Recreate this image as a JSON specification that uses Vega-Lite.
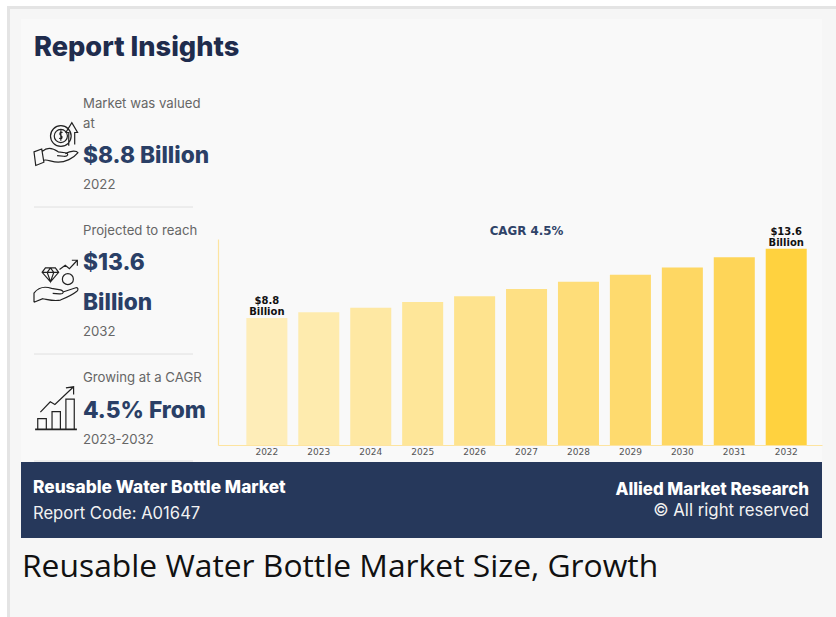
{
  "$schema": "https://vega.github.io/schema/vega-lite/v6.json",
  "width": 604,
  "height": 206,
  "padding": {"left": 218, "top": 239, "right": 14, "bottom": 172},
  "autosize": {"type": "none"},
  "background": "#ffffff",
  "config": {"view": {"stroke": null}},
  "resolve": {"scale": {"x": "independent", "y": "independent", "color": "independent", "size": "independent"}},
  "datasets": {
    "market": [
      {"year": "2022", "value": 8.8, "label": "$8.8\nBillion"},
      {"year": "2023", "value": 9.2},
      {"year": "2024", "value": 9.5},
      {"year": "2025", "value": 9.9},
      {"year": "2026", "value": 10.3},
      {"year": "2027", "value": 10.8},
      {"year": "2028", "value": 11.3},
      {"year": "2029", "value": 11.8},
      {"year": "2030", "value": 12.3},
      {"year": "2031", "value": 13.0},
      {"year": "2032", "value": 13.6, "label": "$13.6\nBillion"}
    ],
    "panels": [
      {"part": "edge", "fromCol": 1, "toCol": 7, "fromRow": 1, "toRow": 9},
      {"part": "page", "fromCol": 2, "toCol": 7, "fromRow": 2, "toRow": 9},
      {"part": "card", "fromCol": 3, "toCol": 6, "fromRow": 3, "toRow": 7},
      {"part": "banner", "fromCol": 3, "toCol": 6, "fromRow": 7, "toRow": 8}
    ],
    "dividers": [
      {"fromCol": 4, "toCol": 5, "row": 4},
      {"fromCol": 4, "toCol": 5, "row": 5},
      {"fromCol": 4, "toCol": 5, "row": 6}
    ],
    "icons": [
      {"icon": "coin", "block": 1},
      {"icon": "gem", "block": 2},
      {"icon": "growth", "block": 3}
    ],
    "copy": [
      {"text": "Report Insights", "line": 1, "column": 1, "role": "heading"},
      {"text": "Market was valued", "line": 2, "column": 2, "role": "note"},
      {"text": "at", "line": 3, "column": 2, "role": "note"},
      {"text": "$8.8 Billion", "line": 4, "column": 2, "role": "figure"},
      {"text": "2022", "line": 5, "column": 2, "role": "note"},
      {"text": "Projected to reach", "line": 6, "column": 2, "role": "note"},
      {"text": "$13.6", "line": 7, "column": 2, "role": "figure"},
      {"text": "Billion", "line": 8, "column": 2, "role": "figure"},
      {"text": "2032", "line": 9, "column": 2, "role": "note"},
      {"text": "Growing at a CAGR", "line": 10, "column": 2, "role": "note"},
      {"text": "4.5% From", "line": 11, "column": 2, "role": "figure"},
      {"text": "2023-2032", "line": 12, "column": 2, "role": "note"},
      {"text": "Reusable Water Bottle Market", "line": 13, "column": 3, "role": "bannerTitle"},
      {"text": "Allied Market Research", "line": 14, "column": 4, "role": "bannerTitleRight"},
      {"text": "© All right reserved", "line": 15, "column": 4, "role": "bannerNoteRight"},
      {"text": "Report Code: A01647", "line": 16, "column": 3, "role": "bannerNote"},
      {"text": "Reusable Water Bottle Market Size, Growth", "line": 17, "column": 5, "role": "caption"},
      {"text": "CAGR 4.5%", "line": 6, "column": 6, "role": "cagr"}
    ]
  },
  "layer": [
    {
      "data": {"name": "panels"},
      "mark": {"type": "rect"},
      "encoding": {
        "x": {"field": "fromCol", "type": "quantitative", "axis": null, "scale": {"domain": [1, 2, 3, 4, 5, 6, 7], "range": [-211, -208, -197, -184, -25, 604, 618], "nice": false, "zero": false}},
        "x2": {"field": "toCol"},
        "y": {"field": "fromRow", "type": "quantitative", "axis": null, "scale": {"domain": [1, 2, 3, 4, 5, 6, 7, 8, 9], "range": [-233, -230, -220, -32, 115, 222, 223, 299, 378], "nice": false, "zero": false}},
        "y2": {"field": "toRow"},
        "color": {"field": "part", "type": "nominal", "legend": null, "scale": {"domain": ["edge", "page", "card", "banner"], "range": ["#e4e4e4", "#f6f6f6", "#f9f9f9", "#26385b"]}}
      }
    },
    {
      "data": {"name": "dividers"},
      "mark": {"type": "rule", "stroke": "#e0e0e0", "strokeWidth": 1},
      "encoding": {
        "x": {"field": "fromCol", "type": "quantitative", "axis": null, "scale": {"domain": [1, 2, 3, 4, 5, 6, 7], "range": [-211, -208, -197, -184, -25, 604, 618], "nice": false, "zero": false}},
        "x2": {"field": "toCol"},
        "y": {"field": "row", "type": "quantitative", "axis": null, "scale": {"domain": [1, 2, 3, 4, 5, 6, 7, 8, 9], "range": [-233, -230, -220, -32, 115, 222, 223, 299, 378], "nice": false, "zero": false}}
      }
    },
    {
      "data": {"name": "market"},
      "mark": {"type": "bar"},
      "encoding": {
        "x": {
          "field": "year", "type": "nominal", "title": null,
          "scale": {"paddingInner": 0.21, "paddingOuter": 0.42, "align": 0.65},
          "axis": {"labelAngle": 0, "labelFont": "DejaVu Sans", "labelFontSize": 9, "labelColor": "#555555", "labelPadding": 2, "ticks": false, "domainColor": "#fde4a0", "domainWidth": 1.2, "zindex": 1}
        },
        "y": {
          "field": "value", "type": "quantitative", "title": null,
          "scale": {"domain": [0, 14.27], "nice": false},
          "axis": {"labels": false, "ticks": false, "grid": false, "domainColor": "#fde4a0", "domainWidth": 1.2, "zindex": 1}
        },
        "color": {
          "field": "year", "type": "nominal", "legend": null,
          "scale": {"range": ["#feedb8", "#feebae", "#fee8a3", "#fee699", "#fee38e", "#fee084", "#fedd79", "#feda6e", "#fed763", "#fed558", "#ffd23f"]}
        }
      }
    },
    {
      "data": {"name": "market"},
      "transform": [{"filter": "isValid(datum.label)"}],
      "mark": {"type": "text", "font": "DejaVu Sans", "fontWeight": "bold", "fontSize": 10, "lineBreak": "\n", "lineHeight": 11, "baseline": "bottom", "color": "#111111", "dy": -11.5},
      "encoding": {
        "x": {"field": "year", "type": "nominal", "axis": null, "scale": {"type": "band", "domain": ["2022", "2023", "2024", "2025", "2026", "2027", "2028", "2029", "2030", "2031", "2032"], "paddingInner": 0.21, "paddingOuter": 0.42, "align": 0.65}},
        "y": {"field": "value", "type": "quantitative", "axis": null, "scale": {"domain": [0, 14.27], "nice": false}},
        "text": {"field": "label"}
      }
    },
    {
      "data": {"name": "icons"},
      "mark": {"type": "point", "filled": false, "size": 1936, "stroke": "#222222", "strokeWidth": 1.2, "opacity": 1},
      "encoding": {
        "x": {"field": "block", "type": "quantitative", "axis": null, "scale": {"domain": [1, 3], "range": [-162, -162], "nice": false, "zero": false}},
        "y": {"field": "block", "type": "quantitative", "axis": null, "scale": {"domain": [1, 2, 3], "range": [-95.5, 41.7, 168.7], "nice": false, "zero": false}},
        "shape": {
          "field": "icon", "type": "nominal", "legend": null,
          "scale": {
            "domain": ["coin", "gem", "growth"],
            "range": [
              "M-.25 -.34a.47 .47 0 1 0 .94 0a.47 .47 0 1 0 -.94 0ZM-.08 -.34a.3 .3 0 1 0 .6 0a.3 .3 0 1 0 -.6 0ZM.3 -.5C.2 -.56 .12 -.46 .22 -.36C.32 -.3 .28 -.18 .14 -.24M.22 -.6L.22 -.12M.58 .1L.58 -.5L.45 -.5L.72 -.95L.98 -.5L.85 -.5L.85 .05M-1 .38L-.65 .25L-.55 .85L-.92 1ZM-.62 .36C-.4 .15 -.15 .2 .1 .38L.42 .42C.6 .45 .55 .6 .35 .58L.05 .55M.42 .46C.7 .3 .95 .33 1 .42C.8 .68 .4 .85 .1 .85C-.2 .85 -.4 .7 -.56 .76",
              "M-.48 -.58L-.03 -.58L.12 -.38L-.25 .05L-.63 -.38ZM-.63 -.38L.12 -.38M-.4 -.38L-.25 .05L-.1 -.38M-.4 -.38L-.25 -.58L-.1 -.38M.29 -.07a.25 .25 0 1 0 .5 0a.25 .25 0 1 0 -.5 0ZM.16 -.51L.42 -.7L.61 -.55L.97 -.93M.72 -.93L.97 -.93L.97 -.68M-1 .98L-1 .56C-.8 .3 -.5 .25 -.2 .35L.2 .42C.4 .48 .35 .62 .15 .6L-.15 .58M.35 .5L.9 .32C1.02 .3 1.02 .42 .95 .48C.7 .68 .45 .78 .2 .88C-.1 .95 -.4 .85 -.6 .82L-1 .98",
              "M-.83 1L-.83 .5L-.44 .5L-.44 1M-.18 1L-.18 .18L.2 .18L.2 1M.45 1L.45 -.39L.83 -.39L.83 1M-.95 1L.95 1M-.95 .97L.95 .97M-.71 .2L-.26 -.27L-.05 -.15L.8 -.95M.45 -.9L.8 -.95L.8 -.6"
            ]
          }
        }
      }
    },
    {
      "data": {"name": "copy"},
      "encoding": {
        "x": {"field": "column", "type": "quantitative", "axis": null, "scale": {"domain": [1, 2, 3, 4, 5, 6], "range": [-184, -135, -185, 591, -196, 308.5], "nice": false, "zero": false}},
        "y": {"field": "line", "type": "quantitative", "axis": null, "scale": {"domain": [1, 2, 3, 4, 5, 6, 7, 8, 9, 10, 11, 12, 13, 14, 15, 16, 17], "range": [-191.5, -135, -115, -83, -54, -8, 24, 64, 93, 139, 172, 201, 249, 251, 272, 275, 328], "nice": false, "zero": false}},
        "text": {"field": "text"},
        "size": {"field": "role", "type": "nominal", "legend": null, "scale": {
          "type": "ordinal",
          "domain": ["heading", "note", "figure", "bannerTitle", "bannerTitleRight", "bannerNote", "bannerNoteRight", "caption", "cagr"],
          "range": [27.2, 13.2, 22.7, 17.3, 16.9, 16.6, 16.8, 31.8, 11.85]}},
        "color": {"field": "role", "type": "nominal", "legend": null, "scale": {
          "domain": ["heading", "note", "figure", "bannerTitle", "bannerTitleRight", "bannerNote", "bannerNoteRight", "caption", "cagr"],
          "range": ["#1f2c4d", "#666666", "#2a3f66", "#ffffff", "#ffffff", "#f2f2f2", "#f2f2f2", "#111111", "#2f4368"]}}
      },
      "layer": [
        {
          "transform": [{"filter": "datum.role === 'heading' || datum.role === 'figure' || datum.role === 'bannerTitle'"}],
          "mark": {"type": "text", "font": "Inter", "fontWeight": 800, "align": "left", "baseline": "middle"}
        },
        {
          "transform": [{"filter": "datum.role === 'bannerTitleRight'"}],
          "mark": {"type": "text", "font": "Inter", "fontWeight": 800, "align": "right", "baseline": "middle"}
        },
        {
          "transform": [{"filter": "datum.role === 'note' || datum.role === 'bannerNote'"}],
          "mark": {"type": "text", "font": "Inter", "fontWeight": 400, "align": "left", "baseline": "middle"}
        },
        {
          "transform": [{"filter": "datum.role === 'bannerNoteRight'"}],
          "mark": {"type": "text", "font": "Inter", "fontWeight": 400, "align": "right", "baseline": "middle"}
        },
        {
          "transform": [{"filter": "datum.role === 'caption'"}],
          "mark": {"type": "text", "font": "Open Sans", "align": "left", "baseline": "middle"}
        },
        {
          "transform": [{"filter": "datum.role === 'cagr'"}],
          "mark": {"type": "text", "font": "DejaVu Sans", "fontWeight": "bold", "align": "center", "baseline": "middle"}
        }
      ]
    }
  ]
}
